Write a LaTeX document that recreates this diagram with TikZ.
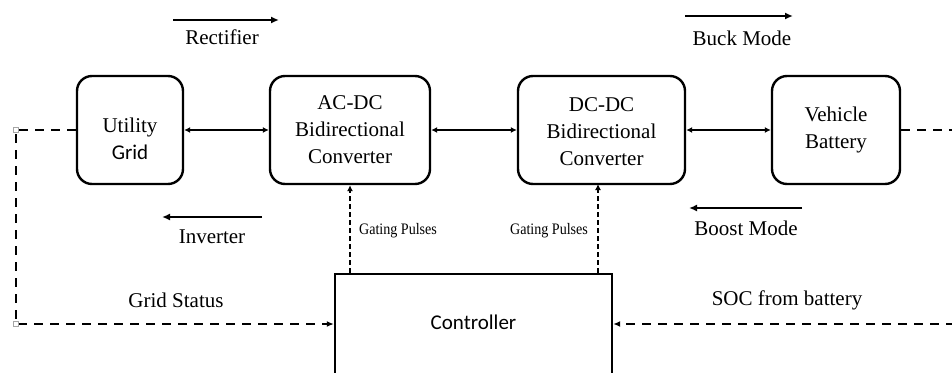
\documentclass[tikz,border=0pt]{standalone}
\usepackage{fontspec}
\setmainfont{Liberation Serif}
\newfontfamily\calfont{Carlito}
\usetikzlibrary{arrows.meta}
\begin{document}
\begin{tikzpicture}[x=1pt,y=-1pt,
  blockbox/.style={draw,line width=2.4pt,rounded corners=15pt,align=center,inner sep=0pt,
    font=\fontsize{21}{27}\selectfont},
  blocktext/.style={align=center,inner sep=0pt,font=\fontsize{21}{27}\selectfont},
  ctrlbox/.style={draw,line width=2.4pt,inner sep=0pt,font=\calfont\fontsize{21}{25}\selectfont},
  biarrow/.style={line width=2pt,{Latex[length=6pt,width=6pt]}-{Latex[length=6pt,width=6pt]}},
  modearrow/.style={line width=2.3pt,-{Latex[length=8pt,width=7pt]}},
  sigline/.style={line width=2.6pt,dash pattern=on 9pt off 7pt,-{Latex[length=7pt,width=6pt]}},
  gateline/.style={line width=2pt,dash pattern=on 5pt off 3pt,-{Latex[length=6pt,width=6pt]}},
  lbl/.style={font=\fontsize{21}{25}\selectfont,anchor=base,inner sep=0pt},
  smalllbl/.style={font=\fontsize{16}{18}\selectfont,anchor=base,inner sep=0pt,xscale=0.88},
  corner/.style={draw=black!35,line width=0.8pt,minimum size=5pt,inner sep=0pt,fill=white}]
\useasboundingbox (0,0) rectangle (952,372);
\clip (0,0) rectangle (952,372);
\fill[white] (0,0) rectangle (952,372);

% blocks
\node[blockbox,minimum width=106pt,minimum height=108pt] (ug) at (130,130) {};
\node[blocktext] (ugt) at (130,139) {Utility\\{\calfont Grid}};
\node[blockbox,minimum width=160pt,minimum height=108pt] (ac) at (350,130) {AC-DC\\Bidirectional\\Converter};
\node[blockbox,minimum width=167pt,minimum height=108pt] (dc) at (601.5,130) {};
\node[blocktext] (dct) at (601.5,132) {DC-DC\\Bidirectional\\Converter};
\node[blockbox,minimum width=128pt,minimum height=108pt] (vb) at (836,130) {Vehicle\\Battery};
\node[ctrlbox,minimum width=277pt,minimum height=100pt] (ctrl) at (473.5,324) {\raisebox{4pt}{Controller}};

% power links
\draw[biarrow] (ug.east) -- (ac.west);
\draw[biarrow] (ac.east) -- (dc.west);
\draw[biarrow] (dc.east) -- (vb.west);

% mode arrows
\coordinate (r1) at (173,20); \coordinate (r2) at (279,20);
\coordinate (b1) at (685,16); \coordinate (b2) at (793,16);
\coordinate (i1) at (262,217); \coordinate (i2) at (162,217);
\coordinate (o1) at (802,208); \coordinate (o2) at (689,208);
\draw[modearrow] (r1) -- (r2);
\draw[modearrow] (b1) -- (b2);
\draw[modearrow] (i1) -- (i2);
\draw[modearrow] (o1) -- (o2);
\node[lbl] (trect) at (222,44) {Rectifier};
\node[lbl] (tbuck) at (742,45) {Buck Mode};
\node[lbl] (tinv) at (212,243) {Inverter};
\node[lbl] (tboost) at (746,235) {Boost Mode};

% gating pulses
\coordinate (gt) at (598,184);
\draw[gateline] (ctrl.north -| ac.south) -- (ac.south);
\draw[gateline] (ctrl.north -| gt) -- (gt);
\node[smalllbl] (g1) at (398,234) {Gating Pulses};
\node[smalllbl] (g2) at (549,234) {Gating Pulses};

% status signals
\node[corner] (c1) at (16,130) {};
\node[corner] (c2) at (16,324) {};
\coordinate (e1) at (975,130);
\coordinate (e2) at (975,324);
\draw[sigline] (ug.west) -- (c1.center) -- (c2.center) -- (ctrl.west);
\draw[sigline] (vb.east) -- (e1) -- (e2) -- (ctrl.east);
\node[corner] at (16,130) {};
\node[corner] at (16,324) {};
\node[lbl] (tgs) at (176,307) {Grid Status};
\node[lbl] (tsoc) at (787,305) {SOC from battery};
\end{tikzpicture}
\end{document}
